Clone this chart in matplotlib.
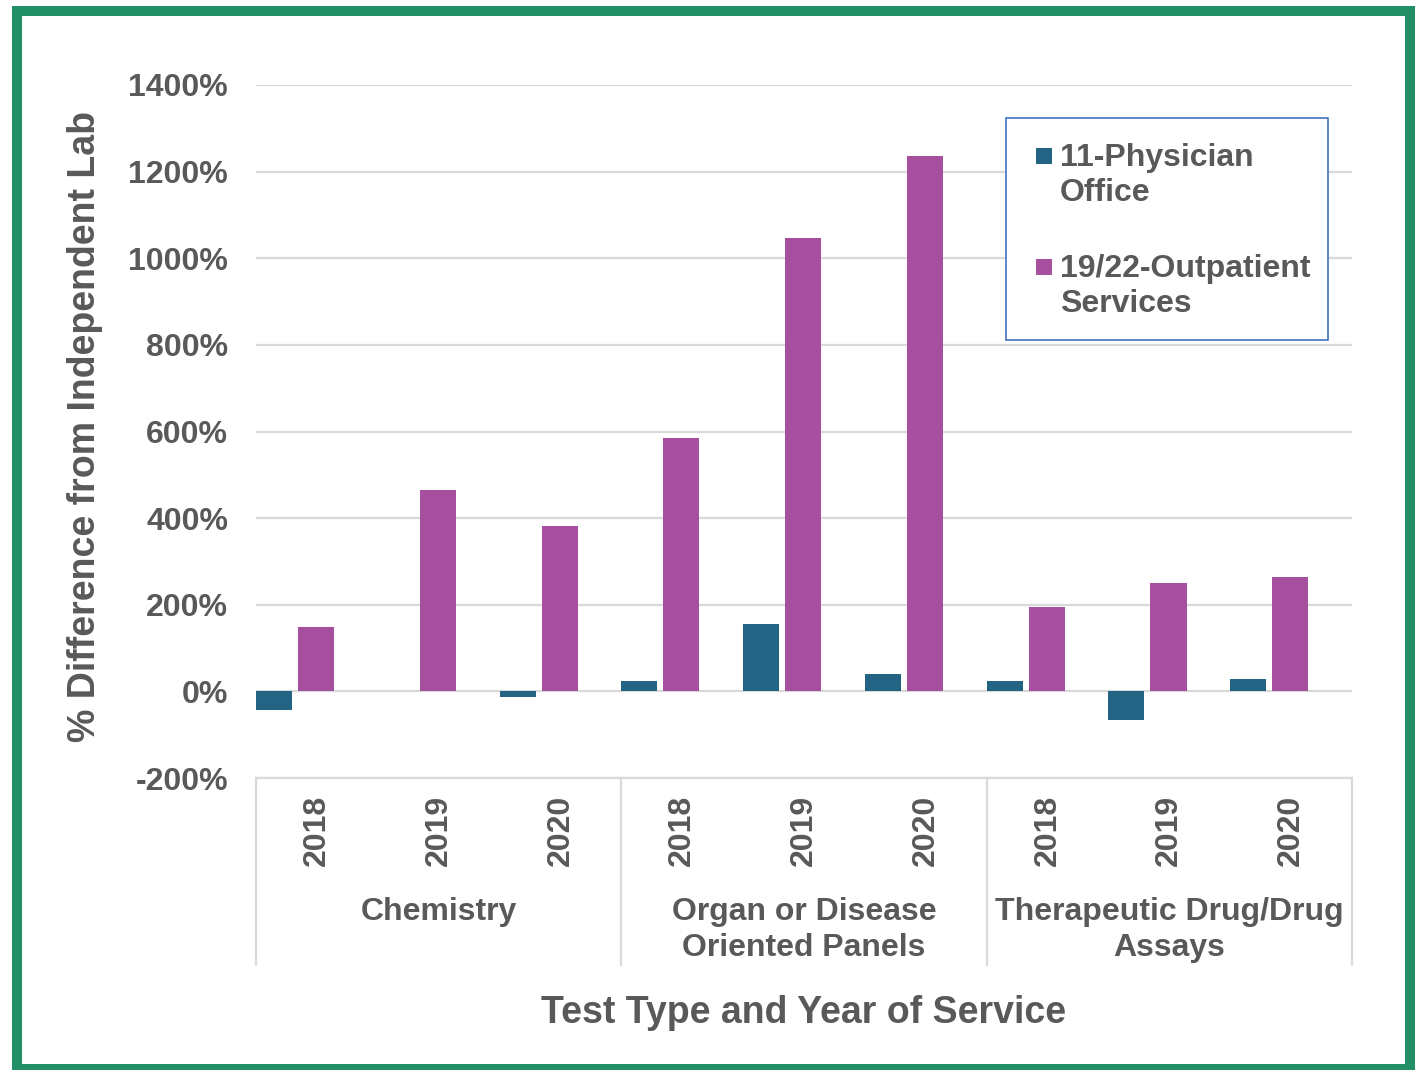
"""Grouped bar chart: % difference from independent lab by test type and year."""
import matplotlib.pyplot as plt
import matplotlib.transforms as mtransforms
from matplotlib.patches import Rectangle
import numpy as np

plt.rcParams['font.family'] = ['Liberation Sans', 'DejaVu Sans']
plt.rcParams['font.weight'] = 'bold'

# data
groups = ['Chemistry', 'Organ or Disease\nOriented Panels', 'Therapeutic Drug/Drug\nAssays']
years = ['2018', '2019', '2020']
physician = [-42, 0, -14, 23, 155, 39, 25, -67, 29]
outpatient = [148, 464, 381, 584, 1047, 1236, 194, 250, 265]
series_names = ['11-Physician\nOffice', '19/22-Outpatient\nServices']
yticks = [-200, 0, 200, 400, 600, 800, 1000, 1200, 1400]

blue = '#236384'
purple = '#A64F9F'
grey_text = '#595959'
grid_col = '#D9D9D9'
green = '#228F66'

W, H = 1417, 1070
fig = plt.figure(figsize=(W / 100, H / 100), dpi=100)
ax = fig.add_axes([256 / W, 1 - 778 / H, 1096 / W, 693 / H])

x = np.arange(len(physician))
bw = 0.296
ax.bar(x - 0.5 + 0.148, physician, bw, color=blue, linewidth=0, zorder=3)
ax.bar(x - 0.5 + 0.148 + 0.345, outpatient, bw, color=purple, linewidth=0, zorder=3)

ax.set_xlim(-0.5, len(physician) - 0.5)
ax.set_ylim(-200, 1400)
ax.set_yticks(yticks)
ax.set_yticklabels([f'{v}%' for v in yticks])
ax.tick_params(axis='y', length=0, pad=20, labelsize=23, labelcolor=grey_text)
ax.grid(axis='y', color=grid_col, linewidth=1.6, zorder=0)
for s in ['top', 'right', 'left']:
    ax.spines[s].set_visible(False)
ax.spines['bottom'].set_color(grid_col)
ax.spines['bottom'].set_linewidth(1.6)

ax.set_xticks(x)
ax.set_xticklabels(years * len(groups), rotation=90, va='top')
ax.tick_params(axis='x', length=0, pad=12, labelsize=23, labelcolor=grey_text)

trans = mtransforms.blended_transform_factory(ax.transData, ax.transAxes)
for i, g in enumerate(groups):
    ax.text(3 * i + 1, -0.171, g, transform=trans, ha='center', va='top',
            fontsize=23, color=grey_text, linespacing=1.27)
for k in range(len(groups) + 1):
    ax.plot([3 * k - 0.5, 3 * k - 0.5], [0, -0.270], transform=trans, color=grid_col,
            linewidth=1.6, clip_on=False)

ax.text(0.5, -0.339, 'Test Type and Year of Service', transform=ax.transAxes,
        ha='center', va='center', fontsize=27, color=grey_text)
fig.text(85 / W, 1 - 426 / H, '% Difference from Independent Lab', rotation=90,
         ha='center', va='center', fontsize=27, color=grey_text)

# legend drawn by hand to match the Excel layout (pixel positions)
def px(xp, yp):
    return xp / W, 1 - yp / H

fig.add_artist(Rectangle(px(1006, 340), 322 / W, 222 / H, transform=fig.transFigure,
                         fill=True, facecolor='white', edgecolor='#4472C4', linewidth=1.2))
for name, col, ytop in zip(series_names, [blue, purple], [156, 267]):
    fig.add_artist(Rectangle(px(1036, ytop + 8), 16 / W, 16 / H, transform=fig.transFigure,
                             facecolor=col, edgecolor='none'))
    fig.text(*px(1060, ytop - 13), name, ha='left', va='top', fontsize=23,
             color=grey_text, linespacing=1.23)

fig.add_artist(Rectangle(px(16.5, 1069), (1409.5 - 16.5) / W, (1069 - 11) / H,
                         transform=fig.transFigure, fill=False, edgecolor=green,
                         linewidth=7.2))

fig.savefig('out.png', dpi=100)
